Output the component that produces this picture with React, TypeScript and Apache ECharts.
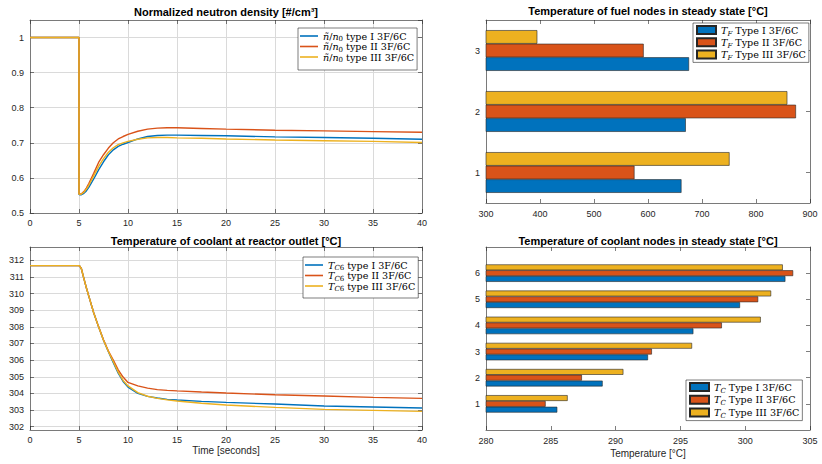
import React, { useEffect, useRef } from "react";
import * as echarts from "echarts";

// ---- data -----------------------------------------------------------------
const time = [0, 5, 5, 5.1, 5.25, 5.5, 5.75, 6, 6.5, 7, 7.5, 8, 8.5, 9, 9.5, 10, 11, 12, 13, 14, 15, 17.5, 20, 25, 30, 35, 40];

// normalized neutron density ñ/n0
const densityI = [1, 1, 0.553, 0.552, 0.552, 0.556, 0.563, 0.573, 0.597, 0.623, 0.646, 0.666, 0.68, 0.69, 0.696, 0.701, 0.711, 0.718, 0.721, 0.722, 0.722, 0.721, 0.72, 0.717, 0.715, 0.713, 0.71];
const densityII = [1, 1, 0.554, 0.554, 0.555, 0.561, 0.571, 0.584, 0.613, 0.644, 0.666, 0.685, 0.7, 0.711, 0.718, 0.724, 0.733, 0.739, 0.742, 0.743, 0.743, 0.741, 0.739, 0.736, 0.734, 0.732, 0.73];
const densityIII = [1, 1, 0.554, 0.553, 0.554, 0.559, 0.568, 0.579, 0.606, 0.633, 0.655, 0.673, 0.686, 0.695, 0.7, 0.704, 0.71, 0.714, 0.715, 0.715, 0.714, 0.713, 0.711, 0.708, 0.706, 0.704, 0.701];

// coolant temperature at reactor outlet T_C6 [°C]
const outletI = [311.68, 311.68, 311.68, 311.64, 311.48, 310.9, 310.35, 309.85, 308.85, 308.0, 307.2, 306.5, 305.85, 305.22, 304.72, 304.38, 304.0, 303.82, 303.72, 303.64, 303.6, 303.52, 303.46, 303.36, 303.24, 303.18, 303.12];
const outletII = [311.68, 311.68, 311.68, 311.64, 311.48, 310.9, 310.35, 309.85, 308.85, 308.0, 307.22, 306.55, 306.0, 305.42, 304.98, 304.66, 304.45, 304.32, 304.23, 304.18, 304.15, 304.08, 304.02, 303.92, 303.84, 303.76, 303.7];
const outletIII = [311.68, 311.68, 311.68, 311.64, 311.48, 310.9, 310.35, 309.85, 308.85, 308.0, 307.2, 306.52, 305.9, 305.28, 304.78, 304.45, 304.05, 303.83, 303.7, 303.61, 303.54, 303.41, 303.3, 303.16, 303.04, 302.98, 302.92];

// fuel node temperatures in steady state [°C]
const fuelNodes = ["1", "2", "3"];
const fuelI = [662, 670, 676];
const fuelII = [575, 874, 592];
const fuelIII = [751, 858, 395];

// coolant node temperatures in steady state [°C]
const coolantNodes = ["1", "2", "3", "4", "5", "6"];
const coolantI = [285.5, 289.0, 292.5, 296.0, 299.6, 303.1];
const coolantII = [284.6, 287.4, 292.8, 298.2, 301.0, 303.7];
const coolantIII = [286.3, 290.6, 295.9, 301.2, 302.0, 302.9];

const typeLabels = ["I", "II", "III"];

// ---- style ----------------------------------------------------------------
const BLUE = "#0072BD";
const ORANGE = "#D95319";
const YELLOW = "#EDB120";
const COLORS = [BLUE, ORANGE, YELLOW];
const SANS = '"Liberation Sans", Arial, Helvetica, sans-serif';
const SERIF = '"DejaVu Serif", "Liberation Serif", serif';
const AXIS = "#7a7a7a";
const LABEL = "#262626";
const GRID = "#dadada";
const LEGEND_FONT = 9.6;

const legendRich = {
  i: { fontFamily: SERIF, fontStyle: "italic", fontSize: LEGEND_FONT, lineHeight: 14, color: "#000" },
  s: { fontFamily: SERIF, fontStyle: "italic", fontSize: 7, lineHeight: 14, verticalAlign: "bottom", color: "#000" },
  u: { fontFamily: SERIF, fontSize: 7, lineHeight: 14, verticalAlign: "bottom", color: "#000" },
};

const densityNames = typeLabels.map((t) => `ñ/n0 type ${t} 3F/6C`);
const outletNames = typeLabels.map((t) => `TC6 type ${t} 3F/6C`);
const fuelNames = typeLabels.map((t) => `TF Type ${t} 3F/6C`);
const coolantNames = typeLabels.map((t) => `TC Type ${t} 3F/6C`);

function legendText(name: string): string {
  if (name.startsWith("ñ/n0")) return `{i|ñ}/{i|n}{u|0}${name.slice(4)}`;
  if (name.startsWith("TC6")) return `{i|T}{s|C}{u|6}${name.slice(3)}`;
  if (name.startsWith("TF")) return `{i|T}{s|F}${name.slice(2)}`;
  if (name.startsWith("TC")) return `{i|T}{s|C}${name.slice(2)}`;
  return name;
}

const tickStyle = { show: true, inside: true, length: 4, lineStyle: { color: LABEL, width: 0.6 } };
const lineStyleAxis = { show: true, onZero: false, lineStyle: { color: AXIS, width: 1 } };
const labelStyle = { color: LABEL, fontSize: 9, fontFamily: SANS };

function mirror(base: any, position: string) {
  return {
    ...base,
    position,
    name: "",
    axisLabel: { show: false },
    splitLine: { show: false },
  };
}

function buildOption(): any {
  const grids = [
    { left: 30, top: 20, width: 392, height: 193 },
    { left: 486, top: 20, width: 324, height: 183 },
    { left: 30, top: 247, width: 392, height: 183 },
    { left: 486, top: 247, width: 324, height: 183 },
  ];

  const x0 = {
    type: "value", gridIndex: 0, min: 0, max: 40, interval: 5, position: "bottom",
    axisLine: lineStyleAxis, axisTick: tickStyle, axisLabel: { ...labelStyle, margin: 5 },
    splitLine: { show: true, lineStyle: { color: GRID, width: 1 } },
  };
  const x1 = {
    type: "value", gridIndex: 1, min: 300, max: 900, interval: 100, position: "bottom",
    axisLine: lineStyleAxis, axisTick: tickStyle, axisLabel: { ...labelStyle, margin: 6 },
    splitLine: { show: false },
  };
  const x2 = {
    ...x0, gridIndex: 2,
    name: "Time [seconds]", nameLocation: "middle", nameGap: 15,
    nameTextStyle: { color: LABEL, fontSize: 10, fontFamily: SANS },
  };
  const x3 = {
    type: "value", gridIndex: 3, min: 280, max: 305, interval: 5, position: "bottom",
    axisLine: lineStyleAxis, axisTick: tickStyle, axisLabel: { ...labelStyle, margin: 6 },
    splitLine: { show: false },
    name: "Temperature [°C]", nameLocation: "middle", nameGap: 18,
    nameTextStyle: { color: LABEL, fontSize: 10, fontFamily: SANS },
  };

  const y0 = {
    type: "value", gridIndex: 0, min: 0.5, max: 1.05, minInterval: 0.1, maxInterval: 0.1, position: "left",
    axisLine: lineStyleAxis, axisTick: tickStyle,
    axisLabel: { ...labelStyle, margin: 6, showMaxLabel: false },
    splitLine: { show: true, lineStyle: { color: GRID, width: 1 } },
  };
  const y1 = {
    type: "category", gridIndex: 1, data: fuelNodes, position: "left",
    axisLine: lineStyleAxis, axisTick: { ...tickStyle, alignWithLabel: true },
    axisLabel: { ...labelStyle, margin: 6 },
    splitLine: { show: false },
  };
  const y2 = {
    type: "value", gridIndex: 2, min: 301.8, max: 312.8, minInterval: 1, maxInterval: 1, position: "left",
    axisLine: lineStyleAxis, axisTick: tickStyle,
    axisLabel: { ...labelStyle, margin: 6, showMaxLabel: false, showMinLabel: false },
    splitLine: { show: true, lineStyle: { color: GRID, width: 1 } },
  };
  const coolantAxisData = ["", ...coolantNodes, ""];
  const y3 = {
    type: "category", gridIndex: 3, data: coolantAxisData, boundaryGap: false, position: "left",
    axisLine: lineStyleAxis,
    axisTick: { ...tickStyle, interval: (i: number) => i > 0 && i < coolantAxisData.length - 1 },
    axisLabel: { ...labelStyle, margin: 6, interval: 0 },
    splitLine: { show: false },
  };

  const xAxis = [x0, mirror(x0, "top"), x1, mirror(x1, "top"), x2, mirror(x2, "top"), x3, mirror(x3, "top")];
  const yAxis = [y0, mirror(y0, "right"), y1, mirror(y1, "right"), y2, mirror(y2, "right"), y3, mirror(y3, "right")];

  const lineSeries = (name: string, values: number[], i: number, axis: number) => ({
    type: "line", name, xAxisIndex: axis, yAxisIndex: axis, symbol: "none",
    data: time.map((t, k) => [t, values[k]]),
    lineStyle: { color: COLORS[i], width: 1.4 },
    itemStyle: { color: COLORS[i] },
    z: 3,
  });

  const barSeries = (name: string, values: (number | null)[], i: number, axis: number) => ({
    type: "bar", name, xAxisIndex: axis, yAxisIndex: axis,
    data: values,
    barGap: "0%", barCategoryGap: "33.3%",
    itemStyle: { color: COLORS[i], borderColor: "#262626", borderWidth: 0.6 },
  });

  const densities = [densityI, densityII, densityIII];
  const outlets = [outletI, outletII, outletIII];
  const fuels = [fuelI, fuelII, fuelIII];
  const coolants = [coolantI, coolantII, coolantIII];

  const series: any[] = [];
  densities.forEach((d, i) => series.push(lineSeries(densityNames[i], d, i, 0)));
  outlets.forEach((d, i) => series.push(lineSeries(outletNames[i], d, i, 4)));
  // horizontal groups stack their first series on top; add type III first so type I sits lowest
  [2, 1, 0].forEach((i) => series.push(barSeries(fuelNames[i], fuels[i], i, 2)));
  [2, 1, 0].forEach((i) =>
    series.push(barSeries(coolantNames[i], [null, ...coolants[i], null], i, 6))
  );

  const legendBase = {
    orient: "vertical",
    backgroundColor: "#fff",
    borderColor: "#262626",
    borderWidth: 0.6,
    borderRadius: 0,
    selectedMode: false,
    textStyle: { fontFamily: SERIF, fontSize: LEGEND_FONT, lineHeight: 14, color: "#000", rich: legendRich },
    formatter: legendText,
  };
  const lineLegend = { ...legendBase, icon: "rect", itemWidth: 18, itemHeight: 1.6, itemGap: -3.5 };
  const barLegend = { ...legendBase, icon: "rect", itemWidth: 19, itemHeight: 8 };

  const legend = [
    { ...lineLegend, data: densityNames, left: 298, top: 28, padding: [1, 3, 6, 2] },
    { ...lineLegend, data: outletNames, left: 303, top: 257, padding: [1, 3, 5, 2] },
    { ...barLegend, data: fuelNames, left: 693, top: 23, itemGap: -1.8, padding: [0, 3, 1, 3] },
    { ...barLegend, data: coolantNames, left: 686, top: 380, itemGap: -1.2, padding: [0, 3, 1, 3] },
  ];

  const titleStyle = { fontFamily: SANS, fontSize: 11, fontWeight: "bold", color: "#000" };
  const title = [
    { text: "Normalized neutron density [#/cm³]", left: 226, top: 6, textAlign: "center", padding: 0, textStyle: titleStyle },
    { text: "Temperature of fuel nodes in steady state [°C]", left: 648, top: 5, textAlign: "center", padding: 0, textStyle: titleStyle },
    { text: "Temperature of coolant at reactor outlet [°C]", left: 226, top: 235, textAlign: "center", padding: 0, textStyle: titleStyle },
    { text: "Temperature of coolant nodes in steady state [°C]", left: 648, top: 235, textAlign: "center", padding: 0, textStyle: titleStyle },
  ];

  return {
    animation: false,
    backgroundColor: "#fff",
    title,
    legend,
    grid: grids,
    xAxis,
    yAxis,
    series,
  };
}

export default function App() {
  const ref = useRef<HTMLDivElement>(null);
  useEffect(() => {
    if (!ref.current) return;
    const chart = echarts.init(ref.current, undefined, { renderer: "svg" });
    chart.setOption(buildOption());
    return () => chart.dispose();
  }, []);
  return <div ref={ref} style={{ width: 822, height: 464, position: "absolute", left: 0, top: 0 }} />;
}
